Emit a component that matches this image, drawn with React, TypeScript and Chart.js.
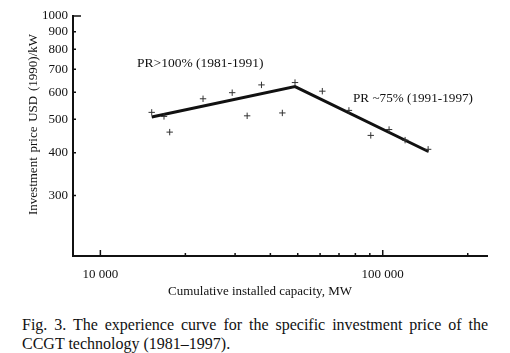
import React, { useEffect, useRef } from "react";
import { Chart, registerables } from "chart.js";

Chart.register(...registerables);

// Observed points (cumulative installed capacity, MW  vs  investment price USD(1990)/kW)
const capacityMW = [15200, 16800, 17600, 23100, 29300, 33100, 37200, 44100, 48900, 61100, 75900, 90700, 105300, 120000, 144800];
const investmentPrice = [524, 510, 459, 574, 598, 512, 630, 522, 640, 604, 531, 449, 467, 435, 409];

// Fitted experience curve (two segments)
const fitCapacityMW = [15200, 48900, 145000];
const fitPrice = [508, 623, 403];

// Axis ticks
const yTickValues = [300, 400, 500, 600, 700, 800, 900, 1000];
const xMajorTicks = [10000, 100000];
const xMajorLabels = ["10 000", "100 000"];
const xMinorTicks = [20000, 30000, 40000, 50000, 60000, 70000, 80000, 90000, 200000];

const yTitle = "Investment price USD (1990)/kW";
const xTitle = "Cumulative installed capacity, MW";
const note1 = "PR>100% (1981-1991)";
const note2 = "PR ~75% (1991-1997)";
const captionLine1 = "Fig. 3. The experience curve for the specific investment price of the";
const captionLine2 = "CCGT technology (1981\u20131997).";

const FONT = "'Liberation Serif', 'Times New Roman', serif";
const INK = "#111";

export default function App() {
  const ref = useRef<HTMLCanvasElement>(null);

  useEffect(() => {
    if (!ref.current) return;

    const decorPlugin = {
      id: "decor",
      afterDraw(chart: any) {
        const ctx = chart.ctx as CanvasRenderingContext2D;
        const xs = chart.scales.x;
        const ys = chart.scales.y;
        const { left, bottom } = chart.chartArea;
        ctx.save();
        ctx.strokeStyle = INK;
        ctx.lineWidth = 1.5;
        ctx.beginPath();
        yTickValues.forEach((v) => {
          const py = ys.getPixelForValue(v);
          const len = v === 1000 ? 8 : 3;
          ctx.moveTo(left, py);
          ctx.lineTo(left + len, py);
        });
        [...xMajorTicks, ...xMinorTicks].forEach((v) => {
          const px = xs.getPixelForValue(v);
          const len = xMajorTicks.includes(v) ? 6 : 3;
          ctx.moveTo(px, bottom);
          ctx.lineTo(px, bottom - len);
        });
        ctx.stroke();

        ctx.fillStyle = INK;
        ctx.font = `13px ${FONT}`;
        ctx.textAlign = "center";
        ctx.textBaseline = "middle";
        ctx.fillText(xTitle, 260, 292);
        ctx.save();
        ctx.translate(34, 124.5);
        ctx.rotate(-Math.PI / 2);
        (ctx as any).wordSpacing = "1.5px";
        ctx.fillText(yTitle, 0, 0);
        ctx.restore();

        ctx.textAlign = "left";
        ctx.font = `13.5px ${FONT}`;
        ctx.fillText(note1, 137, 63.5);
        ctx.font = `13.2px ${FONT}`;
        ctx.fillText(note2, 353, 98.5);
        ctx.restore();
      },
    };

    const chart = new Chart(ref.current, {
      type: "scatter",
      data: {
        datasets: [
          {
            type: "line",
            label: "Experience curve",
            data: fitCapacityMW.map((x, i) => ({ x, y: fitPrice[i] })),
            borderColor: INK,
            borderWidth: 3,
            pointRadius: 0,
            fill: false,
            tension: 0,
            order: 1,
          } as any,
          {
            label: "Observed",
            data: capacityMW.map((x, i) => ({ x, y: investmentPrice[i] })),
            pointStyle: "cross",
            pointRadius: 3.2,
            borderColor: "#333",
            borderWidth: 1,
            backgroundColor: "transparent",
            order: 0,
          },
        ],
      },
      options: {
        responsive: false,
        animation: false,
        layout: { padding: { left: 0, top: 16, right: 23, bottom: 0 } },
        plugins: { legend: { display: false }, tooltip: { enabled: false } },
        scales: {
          x: {
            type: "logarithmic",
            position: "bottom",
            min: 8000,
            max: 234000,
            grid: { display: false, drawTicks: false, tickLength: 0 },
            border: { display: true, color: INK, width: 2 },
            afterBuildTicks: (s: any) => {
              s.ticks = [...xMajorTicks, ...xMinorTicks].sort((a, b) => a - b).map((v) => ({ value: v }));
            },
            afterFit: (s: any) => {
              s.height = 44;
            },
            ticks: {
              autoSkip: false,
              maxRotation: 0,
              padding: 11,
              color: INK,
              font: { family: FONT, size: 13 },
              callback: (v: any) => {
                const i = xMajorTicks.indexOf(Number(v));
                return i >= 0 ? xMajorLabels[i] : "";
              },
            },
          },
          y: {
            type: "logarithmic",
            min: 200,
            max: 1000,
            grid: { display: false, drawTicks: false, tickLength: 0 },
            border: { display: true, color: INK, width: 2 },
            afterBuildTicks: (s: any) => {
              s.ticks = yTickValues.map((v) => ({ value: v }));
            },
            afterFit: (s: any) => {
              s.width = 73;
            },
            ticks: {
              padding: 5,
              color: INK,
              font: { family: FONT, size: 13 },
              callback: (v: any) => String(v),
            },
          },
        },
      } as any,
      plugins: [decorPlugin],
    });

    return () => chart.destroy();
  }, []);

  return (
    <div style={{ position: "absolute", left: 0, top: 0, width: 510, height: 353, background: "#fff", overflow: "hidden" }}>
      <canvas ref={ref} width={510} height={300} style={{ position: "absolute", left: 0, top: 0, width: 510, height: 300 }} />
      <div style={{ position: "absolute", left: 22, top: 315, width: 466, font: `16px ${FONT}`, lineHeight: "19px", color: INK }}>
        <div style={{ textAlign: "justify", textAlignLast: "justify" }}>{captionLine1}</div>
        <div>{captionLine2}</div>
      </div>
    </div>
  );
}
